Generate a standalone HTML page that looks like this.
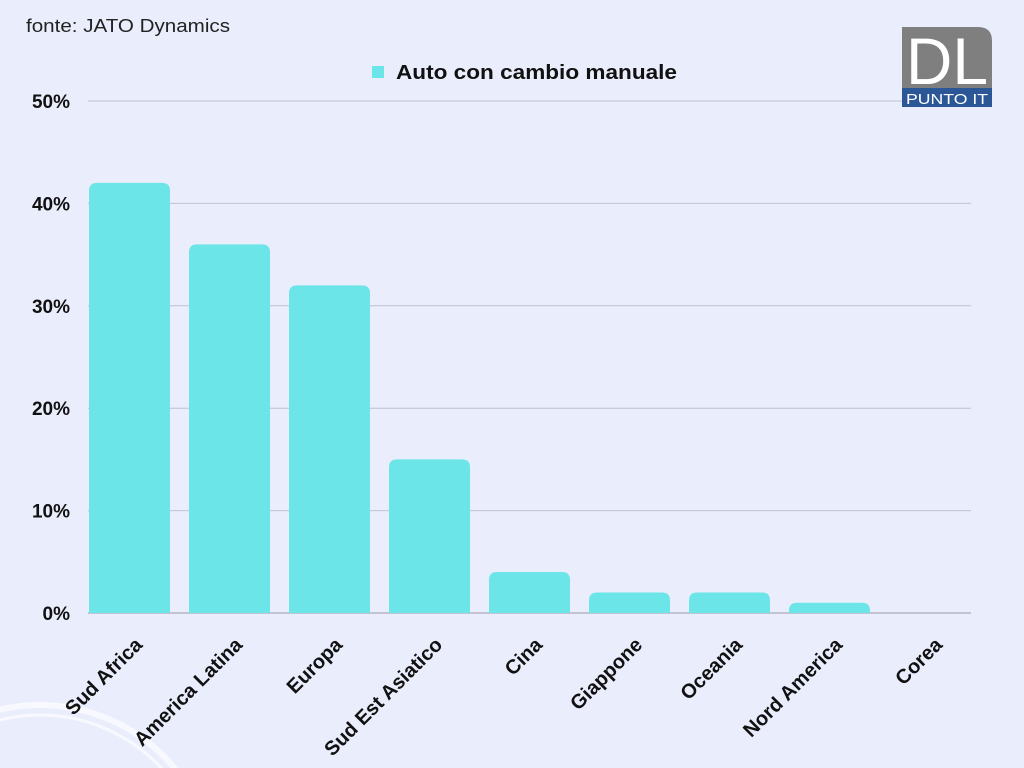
<!DOCTYPE html>
<html><head><meta charset="utf-8"><style>
html,body{margin:0;padding:0;width:1024px;height:768px;overflow:hidden;background:#eaedfc;font-family:"Liberation Sans",sans-serif}
svg{display:block}
</style></head><body>
<svg id="c" width="1024" height="768">
<rect width="1024" height="768" fill="#eaedfc"/>
<g fill="none" stroke="#ffffff" opacity="0.7">
<circle cx="40" cy="880" r="175" stroke-width="6"/>
<circle cx="40" cy="880" r="165" stroke-width="3"/>
</g>
<text x="26" y="32" font-size="18" fill="#222" textLength="204" lengthAdjust="spacingAndGlyphs">fonte: JATO Dynamics</text>
<g>
<rect x="372" y="66" width="12" height="12" fill="#6ce5e8"/>
<text x="396" y="79" font-size="20" font-weight="bold" fill="#111" textLength="281" lengthAdjust="spacingAndGlyphs">Auto con cambio manuale</text>
</g>
<g id="grid"></g><g id="bars"></g><g id="labels"></g>
<g>
<path d="M902 27 H978 Q992 27 992 41 V88 H902 Z" fill="#7f7f7f"/>
<rect x="902" y="88" width="90" height="19" fill="#2b5797"/>
<text x="906" y="84" font-size="66" fill="#fff" textLength="82" lengthAdjust="spacingAndGlyphs">DL</text>
<text x="906" y="104" font-size="15" fill="#fff" textLength="82" lengthAdjust="spacingAndGlyphs">PUNTO IT</text>
</g>
</svg>
<script>
const categories=["Sud Africa","America Latina","Europa","Sud Est Asiatico","Cina","Giappone","Oceania","Nord America","Corea"];
const values=[42,36,32,15,4,2,2,1,0];
const ticks=[0,10,20,30,40,50];
const tickLabels=["0%","10%","20%","30%","40%","50%"];
const NS="http://www.w3.org/2000/svg";
const x0=89,slot=100,bw=81,yBase=613,yTop=101,yMax=50;
const y=v=>yBase-(v/yMax)*(yBase-yTop);
const xb=i=>x0+i*slot;
function mk(t,a,p){const e=document.createElementNS(NS,t);for(const k in a)e.setAttribute(k,a[k]);p.appendChild(e);return e;}
const g=document.getElementById('grid'),b=document.getElementById('bars'),l=document.getElementById('labels');
ticks.forEach((t,i)=>{
 const ln=mk('line',{x1:88,x2:971,y1:y(t),y2:y(t),stroke:t===0?'#9a9aa8':'#c0c2d0','stroke-width':1},g);
 
 
 const tx=mk('text',{x:70,y:y(t)+7,'text-anchor':'end','font-size':19,'font-weight':'bold',fill:'#111'},g);
 tx.textContent=tickLabels[i];
 
 
});
values.forEach((v,i)=>{
 const x=xb(i),yt=y(v),h=yBase-yt,r=Math.min(8,h);
 if(h>0){
  const p=mk('path',{d:`M${x} ${yBase}V${yt+r}Q${x} ${yt} ${x+r} ${yt}H${x+bw-r}Q${x+bw} ${yt} ${x+bw} ${yt+r}V${yBase}Z`,fill:'#6ce5e8'},b);
  
  
 }
 const cx=x+bw/2+14,cy=646;
 const t=mk('text',{x:cx,y:cy,'text-anchor':'end','font-size':20,'font-weight':'bold',fill:'#111',transform:`rotate(-45 ${cx} ${cy})`},l);
 t.textContent=categories[i];
 
 
});
</script>
</body></html>
